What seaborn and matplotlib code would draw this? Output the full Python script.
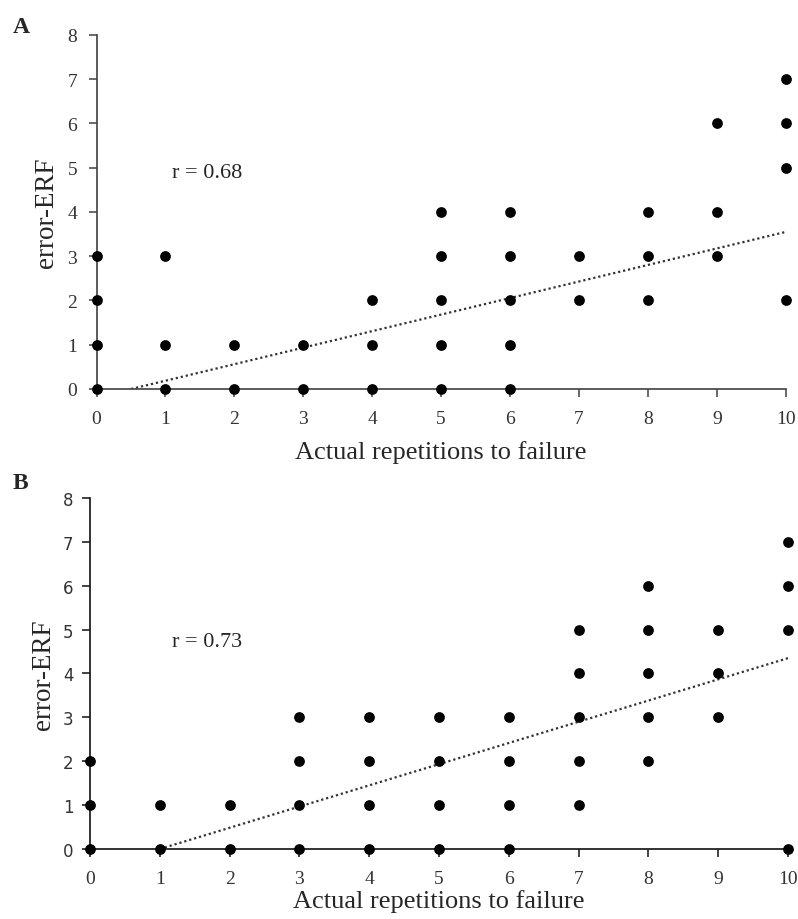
import pandas as pd
import seaborn as sns
from matplotlib import pyplot as plt

plt.close('all')

# panel A: actual repetitions to failure vs error-ERF
ArepsA = [0, 0, 0, 0, 1, 1, 1, 2, 2, 3, 3, 4, 4, 4,
          5, 5, 5, 5, 5, 6, 6, 6, 6, 6, 7, 7, 8, 8, 8,
          9, 9, 9, 10, 10, 10, 10]
ErrA = [0, 1, 2, 3, 0, 1, 3, 0, 1, 0, 1, 0, 1, 2,
        0, 1, 2, 3, 4, 0, 1, 2, 3, 4, 2, 3, 2, 3, 4,
        3, 4, 6, 2, 5, 6, 7]
TrendXA = [0.5, 10]
TrendYA = [0.0, 3.55]
rA = 'r = 0.68'

# panel B
ArepsB = [0, 0, 0, 1, 1, 2, 2, 3, 3, 3, 3, 4, 4, 4, 4,
          5, 5, 5, 5, 6, 6, 6, 6, 7, 7, 7, 7, 7, 8, 8, 8, 8, 8,
          9, 9, 9, 10, 10, 10, 10]
ErrB = [0, 1, 2, 0, 1, 0, 1, 0, 1, 2, 3, 0, 1, 2, 3,
        0, 1, 2, 3, 0, 1, 2, 3, 1, 2, 3, 4, 5, 2, 3, 4, 5, 6,
        3, 4, 5, 0, 5, 6, 7]
TrendXB = [1, 10]
TrendYB = [0.0, 4.35]
rB = 'r = 0.73'

Ticks = list(range(0, 11))
YTicks = list(range(0, 9))

sns.set_style('white')
plt.rcParams['font.family'] = ['Liberation Serif', 'DejaVu Serif']

fig = plt.figure(figsize=(7.98, 9.2), dpi=100)
axA = fig.add_axes([0.121, 0.5761, 0.8637, 0.3848])
axB = fig.add_axes([0.1128, 0.0761, 0.8747, 0.3815])

Panels = [
    # ax, x, y, trend x, trend y, r text, r pos, letter, letter y, ytick font, spine colour, ylabel x, xlabel y
    (axA, ArepsA, ErrA, TrendXA, TrendYA, rA, (1.1, 4.9), 'A', 0.9705, 'Liberation Serif', '#404040', -0.072, -63 / 354),
    (axB, ArepsB, ErrB, TrendXB, TrendYB, rB, (1.17, 4.74), 'B', 0.4745, 'DejaVu Sans', '#111111', -0.066, -52 / 351),
]

for ax, xs, ys, tx, ty, rtxt, rpos, letter, ly, tickfont, spcol, ylx, xly in Panels:
    df = pd.DataFrame({'Reps': xs, 'Err': ys})
    dfT = pd.DataFrame({'x': tx, 'y': ty})
    sns.lineplot(data=dfT, x='x', y='y', ax=ax, color='#333333',
                 linewidth=1.6, linestyle=(0, (1, 1.3)), zorder=2)
    sns.scatterplot(data=df, x='Reps', y='Err', ax=ax, color='black',
                    s=60, edgecolor='black', linewidth=0, clip_on=False, zorder=3)

    ax.set_xlim(0, 10)
    ax.set_ylim(0, 8)
    ax.set_xticks(Ticks)
    ax.set_yticks(YTicks)
    ax.spines['top'].set_visible(False)
    ax.spines['right'].set_visible(False)
    for sp in ('left', 'bottom'):
        ax.spines[sp].set_color(spcol)
        ax.spines[sp].set_linewidth(1.2)
    ax.tick_params(axis='both', which='major', direction='out', length=6,
                   width=1.1, color=spcol, left=True, bottom=True,
                   labelcolor='#333333')
    ax.tick_params(axis='x', labelsize=14, pad=9)
    if tickfont == 'DejaVu Sans':
        ax.tick_params(axis='y', labelsize=12, pad=6)
    else:
        ax.tick_params(axis='y', labelsize=14, pad=8)
    for lab in ax.get_yticklabels():
        lab.set_fontfamily(tickfont)

    ax.set_xlabel('Actual repetitions to failure', fontsize=19)
    ax.set_ylabel('error-ERF', fontsize=19.5)
    ax.xaxis.set_label_coords(0.5, xly)
    ax.xaxis.label.set_va('center')
    ax.yaxis.set_label_coords(ylx, 0.5)
    ax.yaxis.label.set_va('center')
    ax.text(rpos[0], rpos[1], rtxt, fontsize=16, va='center', ha='left')
    fig.text(0.016, ly, letter, fontsize=17, fontweight='bold', va='center')

fig.savefig('out.png', dpi=100)
